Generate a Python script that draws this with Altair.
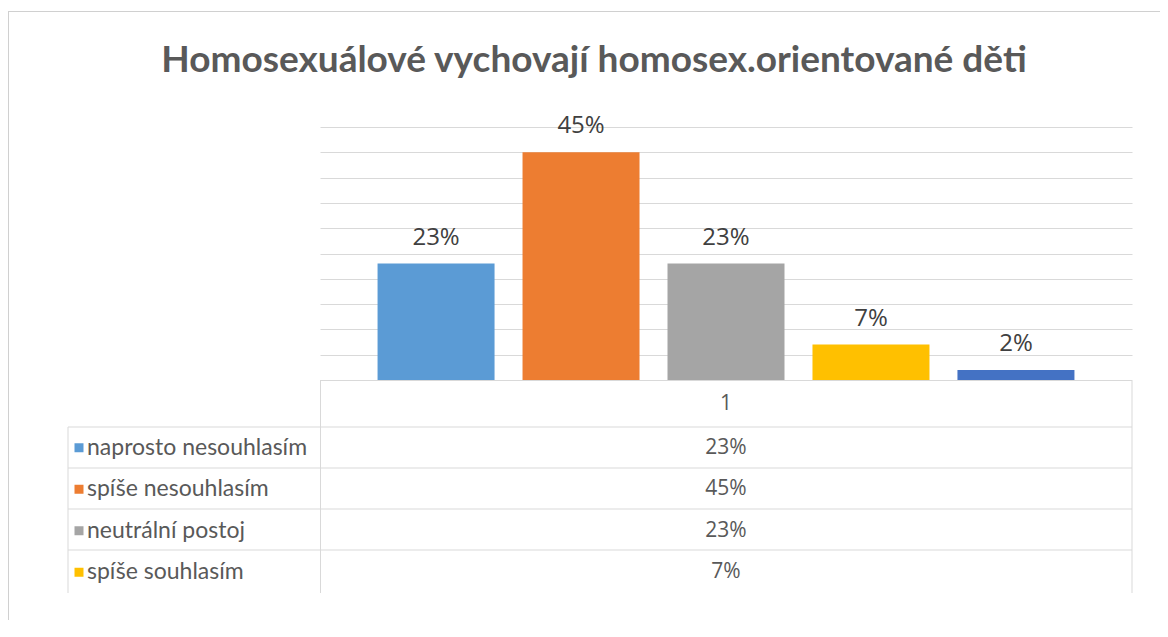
import altair as alt
import pandas as pd

title_text = "Homosexuálové vychovají homosex.orientované děti"
series = ["naprosto nesouhlasím", "spíše nesouhlasím", "neutrální postoj",
          "spíše souhlasím", "naprosto souhlasím"]
values = [0.23, 0.45, 0.23, 0.07, 0.02]
labels = ["23%", "45%", "23%", "7%", "2%"]
colors = ["#5B9BD5", "#ED7D31", "#A5A5A5", "#FFC000", "#4472C4"]
category = "1"
table_rows = 4  # rows visible in the data table

df = pd.DataFrame({"series": series, "value": values, "label": labels})
df_table = df.iloc[:table_rows]

W, H = 812, 253
GRID = "#d9d9d9"

xs = alt.X("series:N", sort=series, axis=None,
           scale=alt.Scale(domain=series, paddingInner=0.193, paddingOuter=0.397))
ys = alt.Y("value:Q", scale=alt.Scale(domain=[0, 0.5]),
           axis=alt.Axis(values=[round(0.05 * i, 2) for i in range(1, 11)], grid=True,
                         gridColor=GRID, gridWidth=1, labels=False, ticks=False,
                         domain=False, title=None))
col = alt.Color("series:N", scale=alt.Scale(domain=series, range=colors), legend=None)

bars = alt.Chart(df).mark_bar().encode(x=xs, y=ys, color=col)
bar_labels = alt.Chart(df).mark_text(
    dy=-19, baseline="alphabetic", fontSize=24, font="Open Sans", color="#404040"
).encode(x=xs, y=alt.Y("value:Q", scale=alt.Scale(domain=[0, 0.5]), axis=None), text="label:N")

row_y = alt.Y("series:N", sort=series[:table_rows], axis=None,
              scale=alt.Scale(domain=series[:table_rows], range=[300, 466],
                              paddingInner=0, paddingOuter=0))

keys = alt.Chart(df_table).mark_square(size=81, opacity=1).encode(
    x=alt.value(-241), y=row_y, color=col)
row_names = alt.Chart(df_table).mark_text(
    align="left", baseline="middle", fontSize=23, font="Lato", color="#595959"
).encode(x=alt.value(-233), y=row_y, text="series:N")
row_vals = alt.Chart(df_table).mark_text(
    align="center", baseline="middle", fontSize=21, font="Open Sans", color="#595959"
).encode(x=alt.value(W / 2), y=row_y, text="label:N")

header = alt.Chart(pd.DataFrame({"cat": [category]})).mark_text(
    align="center", baseline="middle", fontSize=21, font="Open Sans", color="#595959"
).encode(x=alt.value(W / 2), y=alt.value(277), text="cat:N")

title = alt.Chart(pd.DataFrame({"t": [title_text]})).mark_text(
    align="center", baseline="alphabetic", fontSize=37, font="Lato", fontWeight="bold",
    color="#595959"
).encode(x=alt.value(274), y=alt.value(-55), text="t:N")

def hrule(y, x0, x1, color=GRID):
    return alt.Chart(pd.DataFrame({"k": [0]})).mark_rule(color=color, strokeWidth=1).encode(
        x=alt.value(x0), x2=alt.value(x1), y=alt.value(y))

def vrule(x, y0, y1, color=GRID):
    return alt.Chart(pd.DataFrame({"k": [0]})).mark_rule(color=color, strokeWidth=1).encode(
        x=alt.value(x), y=alt.value(y0), y2=alt.value(y1))

lines = [
    hrule(253.5, 0, W),
    hrule(300, -252, W), hrule(341, -252, W), hrule(382, -252, W), hrule(423, -252, W),
    vrule(0.5, 253, 466), vrule(W, 253, 466), vrule(-252, 300, 466),
    hrule(-115.5, -312, 840, "#d0d0d0"), vrule(-311.5, -116, 500, "#d0d0d0"),
]

chart = alt.layer(bars, bar_labels, keys, row_names, row_vals, header, title, *lines).resolve_scale(
    y="independent"
).properties(
    width=W, height=H,
    autosize=alt.AutoSizeParams(type="none"),
    padding={"left": 312, "top": 119, "right": 28, "bottom": 240},
    background="white",
).configure_view(stroke=None)

chart.save("out.html", embed_options={"renderer": "svg", "actions": False})
